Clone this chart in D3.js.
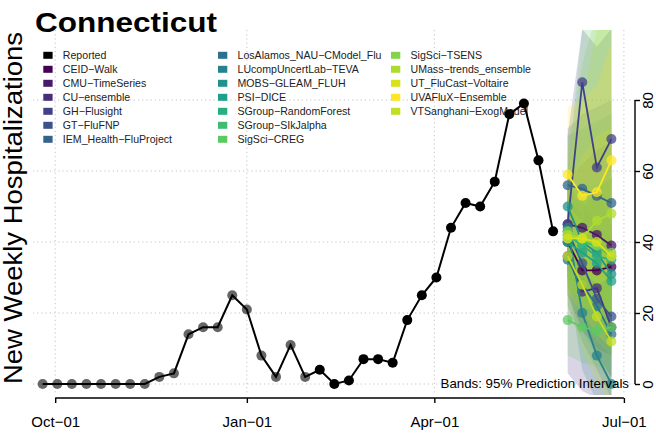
<!DOCTYPE html>
<head>
  <meta charset="utf-8">
  <title>Connecticut</title>
  <style>
    body { margin: 0; background: #fff; }
    text { font-family: "Liberation Sans", Arial, Helvetica, sans-serif; }
    .grid line { stroke: #c4c4c4; stroke-dasharray: 1.2, 3; stroke-width: 1; }
    .axis .domain { display: none; }
    .axis line { stroke: #000; stroke-width: 1.4; }
  </style>
</head>
<body>
  <svg id="chart" width="656" height="433"></svg>

  <script src="https://cdn.jsdelivr.net/npm/d3@7"></script>
  <script>
    /******* Data *******/

    // weekly reported hospitalizations, weeks ending Saturday, starting 2021-09-25
    var reportedStart = "2021-09-25";
    var reportedValues = [0, 0, 0, 0, 0, 0, 0, 0, 2, 3, 14, 16, 16, 25, 21, 8, 2, 11, 2,
                          4, 0, 1, 7, 7, 6, 18, 25, 30, 44, 51, 50, 57, 76, 79, 63, 43];
    var archivedCount = 19; // first points drawn faded

    var forecastDates = ["2022-06-04", "2022-06-11", "2022-06-18", "2022-06-25"];

    var models = ["CEID-Walk", "CMU-TimeSeries", "CU-ensemble", "GH-Flusight", "GT-FluFNP",
                  "IEM_Health-FluProject", "LosAlamos_NAU-CModel_Flu", "LUcompUncertLab-TEVA",
                  "MOBS-GLEAM_FLUH", "PSI-DICE", "SGroup-RandomForest", "SGroup-SIkJalpha",
                  "SigSci-CREG", "SigSci-TSENS", "UMass-trends_ensemble", "UT_FluCast-Voltaire",
                  "UVAFluX-Ensemble", "VTSanghani-ExogModel"];

    var forecastMedian = [
      [40, 32, 32, 33], [45, 44, 42, 39], [36, 26, 27, 16], [45, 85, 61, 69],
      [43, 34, 24, 19], [56, 55, 53, 51], [35, 28, 22, 14], [44, 20, 8, 0],
      [50, 40, 37, 31], [40, 37, 34, 29], [42, 39, 36, 35], [41, 40, 39, 36],
      [18, 16, 15, 16], [43, 41, 39, 37], [42, 41, 46, 48], [41, 41, 40, 36],
      [59, 53, 54, 63], [36, 28, 19, 12]
    ];
    var forecastLower = [
      [25, 15, 10, 8], [32, 26, 20, 15], [3, -2, -4, -6], [25, 50, 30, 30],
      [30, 18, 8, 2], [40, 35, 30, 26], [22, 12, 4, -4], [30, 4, -5, -10],
      [28, 15, 8, 2], [28, 22, 16, 10], [30, 24, 18, 14], [30, 26, 22, 18],
      [8, 6, 5, 4], [25, 18, 12, 8], [28, 22, 20, 18], [26, 20, 14, 10],
      [40, 32, 28, 30], [22, 10, 0, -6]
    ];
    var forecastUpper = [
      [55, 50, 55, 58], [58, 62, 66, 68], [52, 48, 55, 45], [70, 100, 95, 100],
      [56, 52, 44, 42], [72, 76, 78, 80], [50, 46, 42, 36], [60, 40, 28, 20],
      [70, 72, 74, 76], [52, 52, 52, 50], [55, 56, 56, 58], [52, 56, 58, 58],
      [60, 100, 115, 125], [65, 90, 105, 115], [60, 80, 100, 115], [56, 64, 70, 72],
      [78, 80, 84, 96], [50, 46, 40, 34]
    ];

    var yTicks = [0, 20, 40, 60, 80];
    var xTickDates = ["2021-10-01", "2022-01-01", "2022-04-01", "2022-07-01"];
    var xTickLabels = ["Oct\u221201", "Jan\u221201", "Apr\u221201", "Jul\u221201"];

    /******* Setup *******/

    var parse = d3.timeParse("%Y-%m-%d");
    var svg = d3.select("#chart");
    var plot = {left: 33, right: 635, top: 30, bottom: 395};

    var x = d3.scaleTime()
      .domain([parse(reportedStart), parse("2022-07-01")])
      .range([42.7, 623.9]);

    var y = d3.scaleLinear()
      .domain([0, 80])
      .range([384, 100]);

    var color = function(i) {
      return i < 17 ? d3.interpolateViridis(i / 16) : "#c2df23";
    };

    var reported = reportedValues.map(function(v, i) {
      return {date: d3.timeDay.offset(parse(reportedStart), 7 * i), value: v, i: i};
    });

    var forecasts = models.map(function(m, k) {
      return forecastDates.map(function(d, h) {
        return {date: parse(d), mid: forecastMedian[k][h], lo: forecastLower[k][h], hi: forecastUpper[k][h]};
      });
    });

    svg.append("defs").append("clipPath").attr("id", "plotclip")
      .append("rect")
      .attr("x", plot.left).attr("y", plot.top)
      .attr("width", plot.right - plot.left).attr("height", plot.bottom - plot.top);

    /******* Grid *******/

    var grid = svg.append("g").attr("class", "grid");
    grid.selectAll(".v").data(xTickDates).enter().append("line")
      .attr("x1", function(d) { return x(parse(d)); })
      .attr("x2", function(d) { return x(parse(d)); })
      .attr("y1", plot.top).attr("y2", plot.bottom);
    grid.selectAll(".h").data(yTicks).enter().append("line")
      .attr("x1", plot.left).attr("x2", plot.right)
      .attr("y1", function(d) { return y(d); })
      .attr("y2", function(d) { return y(d); });

    /******* Legend *******/

    var entries = ["Reported"].concat(models);
    var colX = [43.3, 218, 391];
    var legend = svg.append("g")
      .selectAll("g")
      .data(entries)
      .enter().append("g")
      .attr("transform", function(d, i) {
        return "translate(" + colX[Math.floor(i / 7)] + "," + (55.3 + (i % 7) * 14) + ")";
      });
    legend.append("rect")
      .attr("x", 0).attr("y", -3.5)
      .attr("width", 9.3).attr("height", 7)
      .attr("fill", function(d, i) { return i === 0 ? "#000" : color(i - 1); });
    legend.append("text")
      .attr("x", 19.5).attr("y", 3.8)
      .attr("font-size", 10.6)
      .attr("fill", "#222")
      .text(function(d) { return d.replace(/-/g, "\u2212"); });

    /******* Forecasts *******/

    var fc = svg.append("g").attr("clip-path", "url(#plotclip)");

    var area = d3.area()
      .x(function(d) { return x(d.date); })
      .y0(function(d) { return y(d.lo); })
      .y1(function(d) { return y(d.hi); });

    fc.selectAll(".band").data(forecasts).enter().append("path")
      .attr("d", area)
      .attr("fill", function(d, k) { return color(k); })
      .attr("fill-opacity", 0.2);

    svg.append("text")
      .attr("x", 629).attr("y", 388)
      .attr("text-anchor", "end")
      .attr("font-size", 13.3)
      .text("Bands: 95% Prediction Intervals");

    var fline = d3.line()
      .x(function(d) { return x(d.date); })
      .y(function(d) { return y(d.mid); });

    var fg = fc.selectAll(".fc").data(forecasts).enter().append("g");
    fg.append("path")
      .attr("d", fline)
      .attr("fill", "none")
      .attr("stroke", function(d, k) { return color(k); })
      .attr("stroke-width", 1.8);
    fg.each(function(d, k) {
      d3.select(this).selectAll("circle").data(d).enter().append("circle")
        .attr("cx", function(p) { return x(p.date); })
        .attr("cy", function(p) { return y(p.mid); })
        .attr("r", 5)
        .attr("fill", color(k))
        .attr("fill-opacity", 0.75);
    });

    /******* Reported *******/

    var line = d3.line()
      .x(function(d) { return x(d.date); })
      .y(function(d) { return y(d.value); });

    svg.append("path")
      .datum(reported)
      .attr("d", line)
      .attr("fill", "none")
      .attr("stroke", "#000")
      .attr("stroke-width", 2);

    svg.selectAll(".pt").data(reported).enter().append("circle")
      .attr("cx", function(d) { return x(d.date); })
      .attr("cy", function(d) { return y(d.value); })
      .attr("r", 5)
      .attr("fill", "#000")
      .attr("fill-opacity", function(d) { return d.i < archivedCount ? 0.6 : 1; });

    /******* Axes *******/

    var xAxis = svg.append("g")
      .attr("class", "axis")
      .attr("transform", "translate(0,398)")
      .call(d3.axisBottom(x)
        .tickValues(xTickDates.map(parse))
        .tickFormat(function(d, i) { return xTickLabels[i]; })
        .tickSize(5));
    xAxis.selectAll("text")
      .attr("y", 29).attr("dy", 0)
      .attr("font-size", 15)
      .attr("font-family", "Liberation Sans, Arial, sans-serif")
      .attr("fill", "#000");
    xAxis.append("line")
      .attr("x1", x(parse(xTickDates[0])))
      .attr("x2", x(parse(xTickDates[xTickDates.length - 1])));

    var yAxis = svg.append("g")
      .attr("class", "axis")
      .attr("transform", "translate(635,0)")
      .call(d3.axisRight(y).tickValues(yTicks).tickSize(5));
    yAxis.selectAll("text")
      .attr("x", null).attr("dy", 0)
      .attr("text-anchor", "middle")
      .attr("transform", "translate(17.5,0) rotate(-90)")
      .attr("font-size", 15)
      .attr("font-family", "Liberation Sans, Arial, sans-serif")
      .attr("fill", "#000");
    yAxis.append("line")
      .attr("y1", y(0)).attr("y2", y(80));

    /******* Titles *******/

    svg.append("text")
      .attr("x", 35).attr("y", 31.5)
      .attr("font-size", 27)
      .attr("font-weight", "bold")
      .attr("textLength", 182)
      .attr("lengthAdjust", "spacingAndGlyphs")
      .text("Connecticut");

    svg.append("text")
      .attr("transform", "translate(22,208) rotate(-90)")
      .attr("text-anchor", "middle")
      .attr("font-size", 25)
      .attr("textLength", 352)
      .attr("lengthAdjust", "spacingAndGlyphs")
      .text("New Weekly Hospitalizations");
  </script>
</body>
